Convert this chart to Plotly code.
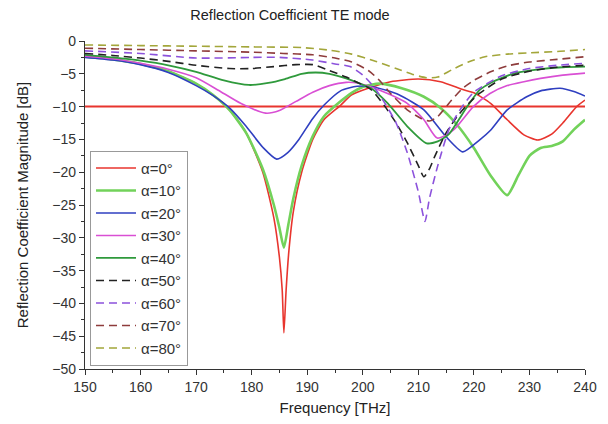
import plotly.graph_objects as go

title = "Reflection Coefficient TE mode"
x_label = "Frequency [THz]"
y_label = "Reflection Coefficient Magnitude [dB]"

# alpha = 0 deg
f0 = [150, 155, 160, 165, 170, 173, 176, 179, 182, 184, 185, 185.5, 185.8, 186.2, 186.7, 187.5, 189, 191, 193, 196, 198, 201, 205, 210, 214, 218, 220, 223, 226, 229, 231.5, 234, 236, 238.5, 240]
r0 = [-2.4, -2.8, -3.5, -4.6, -6.5, -8.2, -10.5, -14, -20, -27, -33, -38, -44.5, -38, -32, -26, -20, -15, -12, -9.8, -8.2, -7.2, -6.2, -5.8, -6.2, -7.4, -7.9, -9.5, -12, -14.3, -15.1, -14.2, -12.5, -10, -9]
# alpha = 10 deg
f10 = [150, 155, 160, 165, 170, 173, 176, 179, 182, 184, 185, 185.8, 186.6, 187.5, 189, 191, 193, 196, 198, 200, 203, 207, 211, 214, 217, 220, 223, 226, 228, 230, 232, 234, 236, 238, 240]
r10 = [-2.4, -2.8, -3.5, -4.6, -6.5, -8.2, -10.5, -14, -19.5, -25, -28.5, -31.5, -28, -24, -19, -14.5, -11.5, -9.2, -7.9, -7.0, -6.5, -7.2, -8.5, -10.2, -12.8, -16.3, -20.5, -23.5, -20.5, -17.5, -16.3, -16, -15.3, -13.5, -12]
# alpha = 20 deg
f20 = [150, 155, 160, 165, 170, 173, 176, 179, 182, 184.5, 186.5, 188.5, 191, 193, 196, 199, 202, 206.5, 211, 215, 218, 221, 223, 226, 229.5, 232, 235.5, 238, 240]
r20 = [-2.5, -2.9, -3.6, -4.8, -6.8, -8.3, -10.2, -13, -16.2, -18, -17, -15, -11.8, -9.8, -7.6, -6.9, -7.0, -8.2, -10.5, -14.6, -16.9, -15.1, -13.6, -10.5, -8.5, -7.6, -7.2, -7.7, -8.4]
# alpha = 30 deg
f30 = [150, 155, 160, 165, 170, 174, 178, 182.5, 185, 188, 191, 194, 197, 199, 201.5, 205, 208, 211, 213.4, 216.3, 219.9, 222.9, 226, 229, 232, 236, 240]
r30 = [-2.3, -2.7, -3.4, -4.3, -5.6, -7.5, -9.5, -11, -10.6, -9.2, -7.8, -6.8, -6.3, -6.4, -7.0, -8.2, -9.5, -12, -14.8, -13.6, -10, -8, -6.8, -6.2, -5.7, -5.2, -4.9]
# alpha = 40 deg
f40 = [150, 155, 160, 165, 170, 175, 179.5, 183, 186, 189, 191.5, 194, 197, 199.5, 201.5, 204.5, 208, 211.5, 213.5, 215.5, 218.8, 221, 223, 227, 232, 236, 240]
r40 = [-2.1, -2.5, -3.0, -3.7, -4.7, -6.0, -6.7, -6.4, -5.8, -5.0, -4.8, -5.0, -5.7, -6.5, -7.2, -9.5, -13, -15.6, -15.3, -14.2, -10, -7.5, -6.4, -5.0, -4.3, -4.0, -3.9]
# alpha = 50 deg
f50 = [150, 155, 160, 165, 170, 176, 180, 184, 188, 191, 194, 197, 199.5, 201.5, 204, 206, 208, 210, 211, 212, 213, 215, 217, 218.5, 221, 225, 230, 235, 240]
r50 = [-1.9, -2.2, -2.6, -3.1, -3.7, -4.2, -4.2, -3.9, -3.6, -3.6, -4.5, -5.5, -6.5, -7.4, -10, -12.5, -15.5, -19, -20.7, -19.5, -17.5, -14, -11.5, -10, -8, -5.8, -4.6, -4.0, -3.7]
# alpha = 60 deg
f60 = [150, 160, 170, 180, 185, 191, 195, 197.7, 200, 202, 204, 206, 208, 210, 211.2, 212, 213.5, 215.5, 217.5, 220, 225, 230, 235, 240]
r60 = [-1.5, -1.9, -2.6, -2.5, -2.5, -2.9, -3.5, -3.9, -5.2, -7, -9.5, -12.5, -17, -23, -27.5, -24, -19, -13.5, -10.5, -7.8, -5.3, -4.2, -3.7, -3.4]
# alpha = 70 deg
f70 = [150, 160, 170, 180, 185.7, 191, 195, 198, 201, 203, 205, 208, 210.5, 212, 213.5, 216, 218, 220, 223, 226, 230, 235, 240]
r70 = [-1.1, -1.3, -1.5, -1.7, -1.9, -2.1, -2.6, -3.2, -4.5, -6, -8, -10.5, -11.8, -12.2, -11.5, -9, -7.2, -6, -4.7, -3.8, -3.2, -2.8, -2.4]
# alpha = 80 deg
f80 = [150, 160, 170, 180, 189, 194, 198, 202, 206, 209, 211.5, 213.5, 216, 219, 222, 226, 230, 235, 240]
r80 = [-0.6, -0.7, -0.8, -0.9, -1.0, -1.4, -2.0, -3.0, -4.2, -5.1, -5.6, -5.5, -4.4, -3.2, -2.4, -2.0, -1.8, -1.6, -1.3]

ref_x = [150, 240]
ref_y = [-10, -10]

names = ["α=0°", "α=10°", "α=20°", "α=30°", "α=40°", "α=50°", "α=60°", "α=70°", "α=80°"]
xs = [f0, f10, f20, f30, f40, f50, f60, f70, f80]
ys = [r0, r10, r20, r30, r40, r50, r60, r70, r80]
colors = ["#e8352e", "#72d25a", "#2f3fc0", "#d94fd4", "#2f9a3c", "#222222", "#8c52dc", "#8e3c3c", "#a3a63a"]
widths = [1.6, 2.6, 1.6, 1.6, 1.8, 1.6, 1.6, 1.6, 1.6]
dashes = ["solid"] * 5 + ["8px,5px"] * 4

fig = go.Figure()
fig.add_trace(go.Scatter(x=ref_x, y=ref_y, mode="lines", line=dict(color="#e8352e", width=2),
                         showlegend=False, hoverinfo="skip"))
for n, x, y, c, w, d in zip(names, xs, ys, colors, widths, dashes):
    fig.add_trace(go.Scatter(x=x, y=y, mode="lines", name=n,
                             line=dict(color=c, width=w, dash=d, shape="spline", smoothing=0.6)))

axis_common = dict(showline=True, linecolor="#333", linewidth=1.2, ticks="outside",
                   ticklen=5, tickcolor="#333", showgrid=False, zeroline=False,
                   tickfont=dict(family="Liberation Sans, Arial", size=14, color="#333"),
                   mirror=False)
fig.update_xaxes(range=[150, 240], dtick=10, title=dict(text=x_label, font=dict(size=15, color="#222"), standoff=8),
                 minor=dict(dtick=5, ticks="outside", ticklen=3, tickcolor="#333"), **axis_common)
fig.update_yaxes(range=[-50, 0], dtick=5, title=dict(text=y_label, font=dict(size=15, color="#222"), standoff=20),
                 minor=dict(dtick=2.5, ticks="outside", ticklen=3, tickcolor="#333"), **axis_common)

# page body has an 8px margin, so the figure is drawn 8px smaller and offset
fig.update_layout(
    width=600, height=416,
    margin=dict(l=77, r=23, t=33, b=55, autoexpand=False),
    paper_bgcolor="white", plot_bgcolor="white",
    font=dict(family="Liberation Sans, Arial", color="#222"),
    title=dict(text=title, x=0.47, xanchor="center", y=0.983, yanchor="middle",
               yref="container", font=dict(size=14.5, color="#222")),
    legend=dict(x=0.01, y=0.01, xanchor="left", yanchor="bottom",
                bordercolor="#999", borderwidth=1, bgcolor="white",
                font=dict(size=15, color="#333"), itemwidth=40,
                tracegroupgap=0),
    showlegend=True,
)

fig.write_html("out.html")
